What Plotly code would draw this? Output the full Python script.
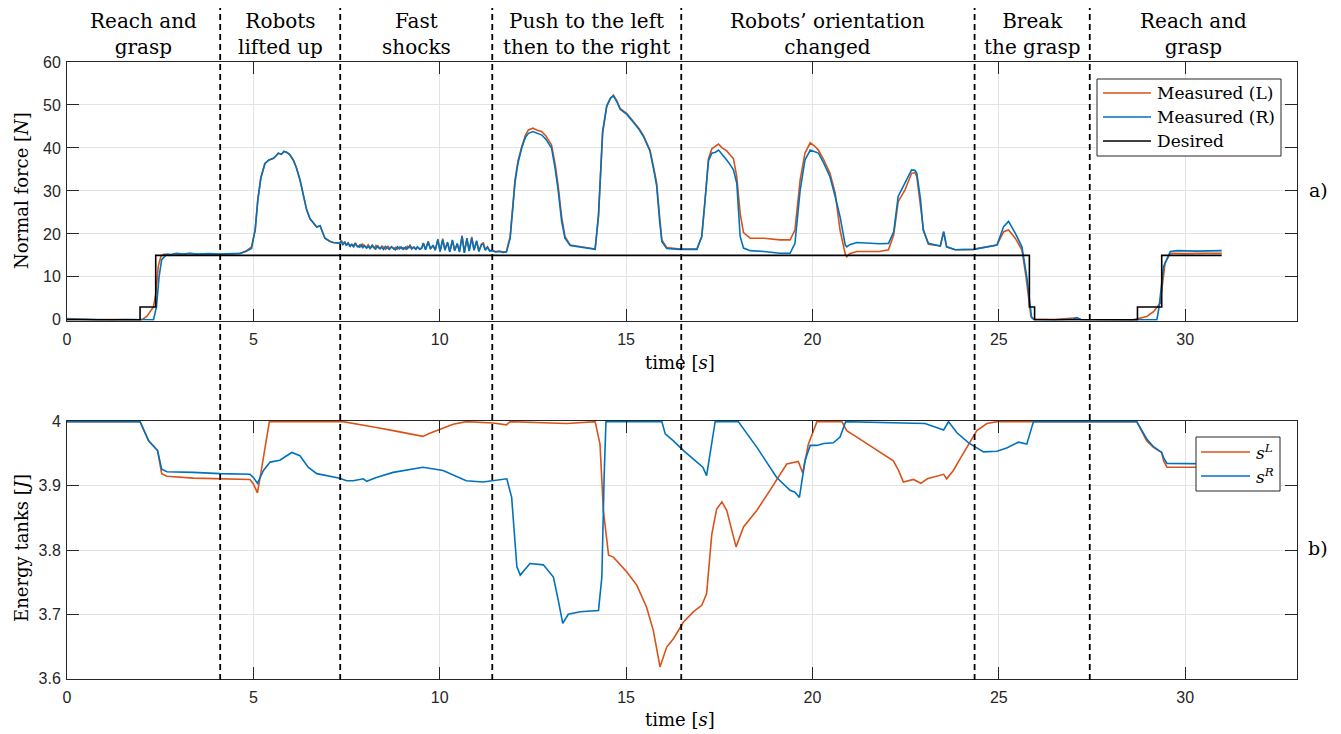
import plotly.graph_objects as go

# ---------------- data ----------------
phase_bounds = [4.11, 7.33, 11.41, 16.48, 24.35, 27.44]
phase_labels = ["Reach and<br>grasp", "Robots<br>lifted up", "Fast<br>shocks",
                "Push to the left<br>then to the right", "Robots’ orientation<br>changed",
                "Break<br>the grasp", "Reach and<br>grasp"]
x_ticks = [0, 5, 10, 15, 20, 25, 30]
force_ticks = [0, 10, 20, 30, 40, 50, 60]
energy_ticks = [3.6, 3.7, 3.8, 3.9, 4.0]
force_legend = ["Measured (L)", "Measured (R)", "Desired"]
energy_legend = ["<i>s</i><sup><i>L</i></sup>", "<i>s</i><sup><i>R</i></sup>"]

t_des = [0, 1.96, 2.38, 25.82, 25.96, 28.72, 29.37, 30.98]
F_des = [0, 3, 15, 3, 0, 3, 15, 15]

force_L = [(0.0, 0.3), (0.4, 0.1), (0.8, 0.0), (1.2, 0.1), (1.6, 0.0), (2.0, 0.0), (2.14, 0.8), (2.32, 3.0),
           (2.38, 6.0), (2.45, 12.5), (2.52, 14.8), (2.6, 15.3), (2.75, 15.0), (2.9, 15.4), (3.1, 15.2),
           (3.3, 15.4), (3.5, 15.2), (3.8, 15.3), (4.1, 15.2), (4.4, 15.3), (4.64, 15.4), (4.8, 16.0),
           (4.95, 17.0), (5.05, 21.0), (5.12, 28.0), (5.2, 33.0), (5.31, 36.4), (5.42, 37.2), (5.54, 37.6),
           (5.62, 38.3), (5.67, 38.8), (5.75, 38.5), (5.82, 39.2), (5.89, 39.0), (5.97, 38.5), (6.07, 37.2),
           (6.15, 35.5), (6.25, 32.6), (6.35, 29.0), (6.43, 25.6), (6.52, 23.5), (6.61, 22.5), (6.7, 21.6),
           (6.79, 21.9), (6.86, 20.5), (6.92, 19.0), (7.05, 18.3), (7.14, 18.0),
           (7.32, 17.9), (7.36, 18.5), (7.41, 17.7), (7.44, 18.1), (7.5, 17.4), (7.55, 17.8), (7.58, 17.2),
           (7.64, 17.6), (7.7, 17.3), (7.74, 17.9), (7.79, 17.0), (7.85, 17.4), (7.88, 16.9), (7.93, 17.6),
           (7.99, 17.1), (8.03, 16.8), (8.08, 17.5), (8.14, 16.7), (8.18, 17.2), (8.25, 16.6), (8.29, 17.3),
           (8.33, 16.9), (8.4, 16.5), (8.45, 17.2), (8.5, 16.8), (8.55, 16.4), (8.61, 17.1), (8.66, 16.6),
           (8.7, 17.0), (8.77, 16.5), (8.82, 16.9), (8.86, 16.4), (8.93, 17.0), (8.98, 16.6), (9.03, 16.8),
           (9.09, 16.4), (9.13, 17.1), (9.18, 16.7), (9.2, 17.5), (9.24, 16.6), (9.3, 17.0), (9.35, 16.5),
           (9.41, 16.9), (9.46, 16.5), (9.52, 16.8),
           (9.56, 17.8), (9.62, 16.4), (9.69, 18.3), (9.75, 16.6), (9.82, 17.2),
           (9.88, 16.3), (9.95, 18.6), (10.01, 16.0), (10.08, 18.9), (10.14, 16.4), (10.21, 17.9),
           (10.27, 15.9), (10.34, 18.4), (10.4, 16.2), (10.47, 17.6), (10.53, 16.0), (10.6, 19.6),
           (10.66, 15.7), (10.73, 18.8), (10.79, 16.1), (10.86, 19.3), (10.92, 16.3), (10.99, 18.2),
           (11.05, 16.0), (11.12, 17.5), (11.17, 18.0), (11.22, 16.3), (11.28, 17.0), (11.34, 16.1),
           (11.4, 16.2), (11.5, 15.9), (11.6, 16.0), (11.7, 15.8), (11.79, 15.9),
           (11.89, 19.4), (12.02, 32.6), (12.1, 37.0), (12.2, 40.3), (12.3, 43.0), (12.38, 44.2), (12.5, 44.6),
           (12.6, 44.2), (12.74, 43.8), (12.85, 42.8), (13.0, 40.7), (13.1, 36.0), (13.18, 31.0),
           (13.27, 24.0), (13.36, 19.4), (13.5, 17.4), (13.77, 17.0), (14.0, 16.8), (14.17, 16.5),
           (14.26, 24.0), (14.32, 35.0), (14.37, 43.4), (14.48, 49.6), (14.58, 51.5), (14.66, 52.3),
           (14.75, 51.0), (14.84, 49.2), (15.02, 48.0), (15.2, 46.1), (15.35, 44.5), (15.47, 42.8),
           (15.64, 39.5), (15.75, 35.0), (15.82, 31.8), (15.9, 24.0), (15.96, 18.6), (16.09, 16.8),
           (16.45, 16.5), (16.9, 16.5), (17.03, 19.4), (17.12, 28.0), (17.21, 37.5), (17.3, 39.8),
           (17.4, 40.3), (17.48, 40.9), (17.58, 40.0), (17.7, 39.3), (17.8, 38.3), (17.88, 37.5),
           (17.97, 33.3), (18.06, 24.8), (18.15, 20.3), (18.33, 19.0), (18.7, 19.0), (19.13, 18.6),
           (19.4, 18.6), (19.53, 20.9), (19.67, 32.6), (19.8, 38.8), (19.94, 41.2), (20.05, 40.5),
           (20.16, 39.5), (20.3, 37.3), (20.47, 34.1), (20.61, 29.5), (20.74, 20.9), (20.88, 15.3),
           (20.92, 14.7), (21.0, 15.4), (21.19, 15.9), (21.8, 15.9), (22.04, 16.3), (22.18, 19.8),
           (22.3, 27.5), (22.48, 30.2), (22.66, 34.1), (22.75, 34.3), (22.8, 33.3), (22.9, 27.0),
           (22.98, 20.9), (23.11, 17.6), (23.43, 17.2), (23.52, 20.5), (23.6, 17.0), (23.83, 16.3),
           (24.32, 16.4), (24.95, 17.4), (25.13, 20.5), (25.26, 20.9), (25.44, 19.0), (25.62, 16.3),
           (25.73, 10.0), (25.86, 0.8), (25.93, 0.2), (26.5, 0.1), (27.0, 0.3), (27.09, 0.5), (27.2, 0.1),
           (28.6, 0.0), (28.97, 0.8), (29.15, 1.9), (29.33, 3.9), (29.46, 13.2), (29.6, 15.5),
           (30.0, 15.4), (30.5, 15.5), (30.98, 15.5)]

force_R = [(0.0, 0.2), (0.4, 0.1), (0.8, 0.0), (1.2, 0.0), (1.6, 0.1), (2.0, 0.0), (2.32, 0.0), (2.4, 3.0),
           (2.47, 10.0), (2.54, 14.0), (2.68, 15.3), (2.8, 15.2), (2.95, 15.5), (3.1, 15.3), (3.3, 15.5),
           (3.5, 15.3), (3.8, 15.4), (4.1, 15.3), (4.4, 15.4), (4.64, 15.5), (4.8, 15.9), (4.95, 16.6),
           (5.05, 21.0), (5.12, 28.0), (5.2, 33.0), (5.31, 36.4), (5.42, 37.2), (5.54, 37.6), (5.62, 38.3),
           (5.67, 38.8), (5.75, 38.5), (5.82, 39.2), (5.89, 39.0), (5.97, 38.5), (6.07, 37.2), (6.15, 35.5),
           (6.25, 32.6), (6.35, 29.0), (6.43, 25.6), (6.52, 23.5), (6.61, 22.5), (6.7, 21.6), (6.79, 21.9),
           (6.86, 20.5), (6.92, 19.0), (7.05, 18.3), (7.14, 18.0),
           (7.32, 17.8), (7.35, 18.3), (7.4, 17.5), (7.46, 18.0), (7.49, 17.3), (7.54, 17.9), (7.6, 17.1),
           (7.63, 17.5), (7.69, 17.0), (7.73, 17.7), (7.78, 17.2), (7.84, 16.9), (7.89, 17.5), (7.94, 16.8),
           (7.98, 17.3), (8.04, 16.7), (8.09, 17.1), (8.13, 16.6), (8.19, 17.4), (8.24, 16.8), (8.28, 16.5),
           (8.34, 17.2), (8.39, 16.6), (8.44, 16.9), (8.49, 16.4), (8.54, 17.1), (8.6, 16.7), (8.65, 16.4),
           (8.71, 17.0), (8.76, 16.6), (8.81, 16.3), (8.87, 17.0), (8.92, 16.5), (8.97, 16.9), (9.02, 16.4),
           (9.08, 16.9), (9.12, 16.5), (9.17, 17.0), (9.21, 17.2), (9.25, 16.5), (9.31, 16.9), (9.36, 16.4),
           (9.4, 17.0), (9.47, 16.4), (9.52, 16.7),
           (9.56, 17.9), (9.62, 16.3), (9.69, 18.1), (9.75, 16.5), (9.82, 17.4),
           (9.88, 16.2), (9.95, 18.8), (10.01, 15.9), (10.08, 18.6), (10.14, 16.2), (10.21, 18.1),
           (10.27, 15.8), (10.34, 18.6), (10.4, 16.1), (10.47, 17.8), (10.53, 15.8), (10.6, 19.4),
           (10.66, 15.6), (10.73, 19.0), (10.79, 16.0), (10.86, 19.0), (10.92, 16.2), (10.99, 18.4),
           (11.05, 15.9), (11.12, 17.6), (11.17, 17.6), (11.22, 16.2), (11.28, 16.9), (11.34, 16.0),
           (11.4, 16.1), (11.5, 15.8), (11.6, 15.9), (11.7, 15.7), (11.79, 15.8),
           (11.89, 19.0), (12.02, 32.0), (12.1, 36.5), (12.2, 40.0), (12.3, 42.5), (12.38, 43.4), (12.5, 43.8),
           (12.6, 43.4), (12.74, 43.0), (12.85, 42.0), (13.0, 40.0), (13.1, 35.0), (13.18, 30.0),
           (13.27, 23.0), (13.36, 19.0), (13.5, 17.3), (13.77, 16.9), (14.0, 16.7), (14.17, 16.4),
           (14.26, 24.5), (14.32, 35.5), (14.37, 43.8), (14.48, 49.8), (14.58, 51.6), (14.66, 52.1),
           (14.75, 50.8), (14.84, 49.0), (15.02, 47.8), (15.2, 45.9), (15.35, 44.3), (15.47, 42.6),
           (15.64, 39.3), (15.75, 34.5), (15.82, 31.2), (15.9, 23.0), (15.96, 18.2), (16.09, 16.6),
           (16.45, 16.4), (16.9, 16.4), (17.03, 19.4), (17.12, 28.0), (17.21, 37.0), (17.3, 38.8),
           (17.4, 39.0), (17.48, 39.5), (17.58, 38.5), (17.7, 37.2), (17.8, 36.0), (17.88, 34.9),
           (17.97, 31.8), (18.06, 19.4), (18.15, 16.7), (18.33, 16.1), (18.7, 15.9), (19.13, 15.5),
           (19.4, 15.5), (19.53, 17.8), (19.67, 30.2), (19.8, 37.2), (19.94, 39.5), (20.05, 39.2),
           (20.16, 38.8), (20.3, 36.5), (20.47, 33.3), (20.61, 28.7), (20.74, 24.0), (20.88, 17.4),
           (20.92, 17.0), (21.0, 17.5), (21.19, 18.0), (21.8, 17.7), (22.04, 17.8), (22.18, 20.5),
           (22.3, 28.7), (22.48, 31.8), (22.66, 34.9), (22.75, 34.8), (22.8, 34.1), (22.9, 28.0),
           (22.97, 20.9), (23.11, 17.8), (23.43, 17.2), (23.52, 20.5), (23.6, 17.0), (23.83, 16.3),
           (24.32, 16.4), (24.95, 17.4), (25.13, 21.7), (25.26, 22.9), (25.44, 20.2), (25.62, 17.0),
           (25.75, 10.0), (25.88, 0.5), (25.95, 0.1), (26.5, 0.0), (27.0, 0.2), (27.09, 0.5), (27.2, 0.1),
           (28.6, 0.0), (29.24, 0.0), (29.3, 3.0), (29.42, 12.4), (29.6, 15.9), (29.8, 16.1),
           (30.3, 16.0), (30.98, 16.1)]

energy_L = [(0.0, 4.0), (1.96, 4.0), (2.19, 3.970), (2.37, 3.958), (2.43, 3.955), (2.54, 3.919), (2.68, 3.915),
            (3.39, 3.912), (4.11, 3.911), (4.91, 3.910), (5.0, 3.903), (5.11, 3.889), (5.18, 3.913),
            (5.43, 4.0), (7.41, 4.0), (7.86, 3.996), (8.3, 3.991), (8.75, 3.986), (9.2, 3.981), (9.55, 3.977),
            (9.7, 3.981), (9.91, 3.986), (10.1, 3.990), (10.36, 3.996), (10.71, 4.0), (11.43, 3.998),
            (11.79, 3.995), (11.89, 4.0), (13.41, 3.997), (14.17, 4.0), (14.3, 3.965), (14.39, 3.862),
            (14.53, 3.792), (14.66, 3.789), (15.02, 3.766), (15.29, 3.745), (15.55, 3.711), (15.73, 3.675),
            (15.91, 3.618), (16.09, 3.649), (16.27, 3.662), (16.54, 3.688), (16.81, 3.704), (17.03, 3.714),
            (17.16, 3.732), (17.3, 3.825), (17.43, 3.864), (17.57, 3.875), (17.7, 3.862), (17.95, 3.805),
            (18.15, 3.836), (18.51, 3.862), (18.86, 3.893), (19.31, 3.934), (19.62, 3.938), (19.74, 3.920),
            (19.89, 3.965), (20.12, 4.0), (20.79, 4.0), (20.92, 3.986), (21.19, 3.976), (22.17, 3.939),
            (22.31, 3.924), (22.44, 3.906), (22.71, 3.910), (22.91, 3.904), (23.08, 3.911), (23.52, 3.918),
            (23.6, 3.911), (23.78, 3.924), (23.96, 3.942), (24.19, 3.965), (24.41, 3.986), (24.68, 3.997),
            (24.95, 4.0), (28.7, 4.0), (28.97, 3.970), (29.15, 3.960), (29.37, 3.952), (29.42, 3.939),
            (29.51, 3.929), (31.0, 3.929)]

energy_R = [(0.0, 4.0), (1.96, 4.0), (2.19, 3.970), (2.37, 3.958), (2.43, 3.955), (2.54, 3.926), (2.68, 3.922),
            (3.39, 3.921), (4.11, 3.919), (4.91, 3.918), (5.0, 3.913), (5.11, 3.904), (5.27, 3.924),
            (5.45, 3.937), (5.71, 3.940), (6.03, 3.952), (6.25, 3.947), (6.47, 3.929), (6.7, 3.919),
            (7.32, 3.912), (7.5, 3.908), (7.68, 3.908), (7.95, 3.911), (8.04, 3.907), (8.3, 3.913),
            (8.75, 3.921), (9.2, 3.925), (9.55, 3.929), (10.09, 3.924), (10.4, 3.916), (10.71, 3.908),
            (11.16, 3.906), (11.44, 3.908), (11.8, 3.911), (11.93, 3.882), (12.07, 3.774), (12.16, 3.761),
            (12.42, 3.779), (12.78, 3.777), (13.05, 3.758), (13.18, 3.722), (13.3, 3.686), (13.45, 3.700),
            (13.77, 3.704), (14.26, 3.706), (14.35, 3.758), (14.41, 3.913), (14.46, 4.0), (15.96, 4.0),
            (16.05, 3.981), (16.27, 3.970), (16.54, 3.955), (16.9, 3.937), (17.06, 3.929), (17.16, 3.916),
            (17.25, 3.950), (17.39, 4.0), (18.01, 4.0), (18.51, 3.960), (19.04, 3.913), (19.4, 3.893),
            (19.53, 3.890), (19.65, 3.882), (19.8, 3.939), (19.94, 3.963), (20.12, 3.963), (20.3, 3.966),
            (20.56, 3.967), (20.74, 3.976), (20.89, 4.0), (23.02, 3.997), (23.52, 3.987), (23.65, 4.0),
            (23.87, 3.983), (24.19, 3.967), (24.59, 3.953), (24.95, 3.954), (25.21, 3.959), (25.53, 3.968),
            (25.75, 3.965), (25.84, 3.981), (25.93, 4.0), (28.7, 4.0), (28.97, 3.973), (29.15, 3.961),
            (29.37, 3.952), (29.42, 3.944), (29.51, 3.935), (31.0, 3.934)]

# ---------------- styling ----------------
ORANGE = "#D95319"
BLUE = "#0072BD"
AXC = "#262626"
GRID = "#e3e3e3"
SERIF = "DejaVu Serif"
SANS = "Liberation Sans"
OFF = 8                     # page body margin: the figure is drawn 8 px in from the window corner
W, H = 1341 - OFF, 734 - OFF
X_RANGE = [0, 33]
LW = 1.6


def unzip(pts):
    return [p[0] for p in pts], [p[1] for p in pts]


def px_x(p):                # window pixel column -> paper fraction
    return (p - OFF) / W


def px_y(p):                # window pixel row -> paper fraction
    return (H - (p - OFF)) / H


fig = go.Figure()
tl, fl = unzip(force_L)
tr, fr = unzip(force_R)
fig.add_trace(go.Scatter(x=tl, y=fl, mode="lines", name=force_legend[0],
                         line=dict(color=ORANGE, width=LW), xaxis="x", yaxis="y"))
fig.add_trace(go.Scatter(x=tr, y=fr, mode="lines", name=force_legend[1],
                         line=dict(color=BLUE, width=LW), xaxis="x", yaxis="y"))
fig.add_trace(go.Scatter(x=t_des, y=F_des, mode="lines", name=force_legend[2], line_shape="hv",
                         line=dict(color="black", width=LW), xaxis="x", yaxis="y"))

el_t, el_v = unzip(energy_L)
er_t, er_v = unzip(energy_R)
fig.add_trace(go.Scatter(x=el_t, y=el_v, mode="lines", name=energy_legend[0],
                         line=dict(color=ORANGE, width=LW), xaxis="x2", yaxis="y2"))
fig.add_trace(go.Scatter(x=er_t, y=er_v, mode="lines", name=energy_legend[1],
                         line=dict(color=BLUE, width=LW), xaxis="x2", yaxis="y2"))

xdom = [px_x(67), px_x(1297)]
ydom_top = [px_y(320.5), px_y(62)]
ydom_bot = [px_y(678.5), px_y(421)]

axis_common = dict(showline=True, linecolor=AXC, linewidth=1, mirror="ticks", ticks="inside",
                   ticklen=12, tickcolor=AXC, showgrid=True, gridcolor=GRID, gridwidth=1,
                   zeroline=False, automargin=False,
                   tickfont=dict(family=SANS, size=16, color=AXC))

fig.update_layout(
    width=W, height=H, margin=dict(l=0, r=0, t=0, b=0, pad=0, autoexpand=False),
    paper_bgcolor="white", plot_bgcolor="white", showlegend=False,
    xaxis=dict(domain=xdom, range=X_RANGE, tickvals=x_ticks, anchor="y", ticklabelstandoff=4,
               **axis_common),
    yaxis=dict(domain=ydom_top, range=[-0.15, 60], tickvals=force_ticks, anchor="x", ticklabelstandoff=2,
               **axis_common),
    xaxis2=dict(domain=xdom, range=X_RANGE, tickvals=x_ticks, anchor="y2", ticklabelstandoff=4,
                **axis_common),
    yaxis2=dict(domain=ydom_bot, range=[3.6, 4.001], tickvals=energy_ticks, anchor="x2", ticklabelstandoff=2,
                **axis_common),
)

# phase separators (dashed lines through both panels)
for b in phase_bounds:
    fig.add_shape(type="line", xref="x", yref="paper", x0=b, x1=b,
                  y0=px_y(680), y1=px_y(8),
                  line=dict(color="black", width=1.8, dash="6px,4px"), layer="above")

# phase labels centred between separators
edges = [X_RANGE[0]] + phase_bounds + [X_RANGE[1]]
for i, lab in enumerate(phase_labels):
    xc = 0.5 * (edges[i] + edges[i + 1])
    fig.add_annotation(x=xc, xref="x", y=1.0, yref="paper", text=lab,
                       showarrow=False, xanchor="center", yanchor="top", borderpad=0,
                       font=dict(family=SERIF, size=20, color="black"))


def label(xp, yp, text, size=18, angle=0):
    fig.add_annotation(x=px_x(xp), y=px_y(yp), xref="paper", yref="paper", text=text,
                       textangle=angle, showarrow=False, xanchor="center", yanchor="middle",
                       font=dict(family=SERIF, size=size, color="black"))


# hand-built legends (boxes, line samples, labels)
def add_legend(box, rows, labels, colors, sample):
    x0, y0, x1, y1 = box
    fig.add_shape(type="rect", xref="paper", yref="paper", x0=px_x(x0), x1=px_x(x1),
                  y0=px_y(y1), y1=px_y(y0), fillcolor="white",
                  line=dict(color=AXC, width=1), layer="above")
    for yy, lab, col in zip(rows, labels, colors):
        fig.add_shape(type="line", xref="paper", yref="paper", x0=px_x(sample[0]), x1=px_x(sample[1]),
                      y0=px_y(yy), y1=px_y(yy), line=dict(color=col, width=LW), layer="above")
        fig.add_annotation(x=px_x(sample[1] + 4), y=px_y(yy), xref="paper", yref="paper",
                           text=lab, showarrow=False, xanchor="left", yanchor="middle",
                           font=dict(family=SERIF, size=17, color="black"))


add_legend((1097, 79, 1281, 156), [93, 117, 141], force_legend, [ORANGE, BLUE, "black"], (1103, 1151))
add_legend((1196, 437, 1280, 491), [452, 476], energy_legend, [ORANGE, BLUE], (1201, 1250))

# axis titles and panel tags
label(21, 191, "Normal force [<i>N</i>]", angle=-90)
label(21, 548, "Energy tanks [<i>J</i>]", angle=-90)
label(680, 362, "time [<i>s</i>]")
label(680, 719, "time [<i>s</i>]")
label(1318, 190, "a)", size=19)
label(1318, 548, "b)", size=19)

fig.write_html("out.html")
